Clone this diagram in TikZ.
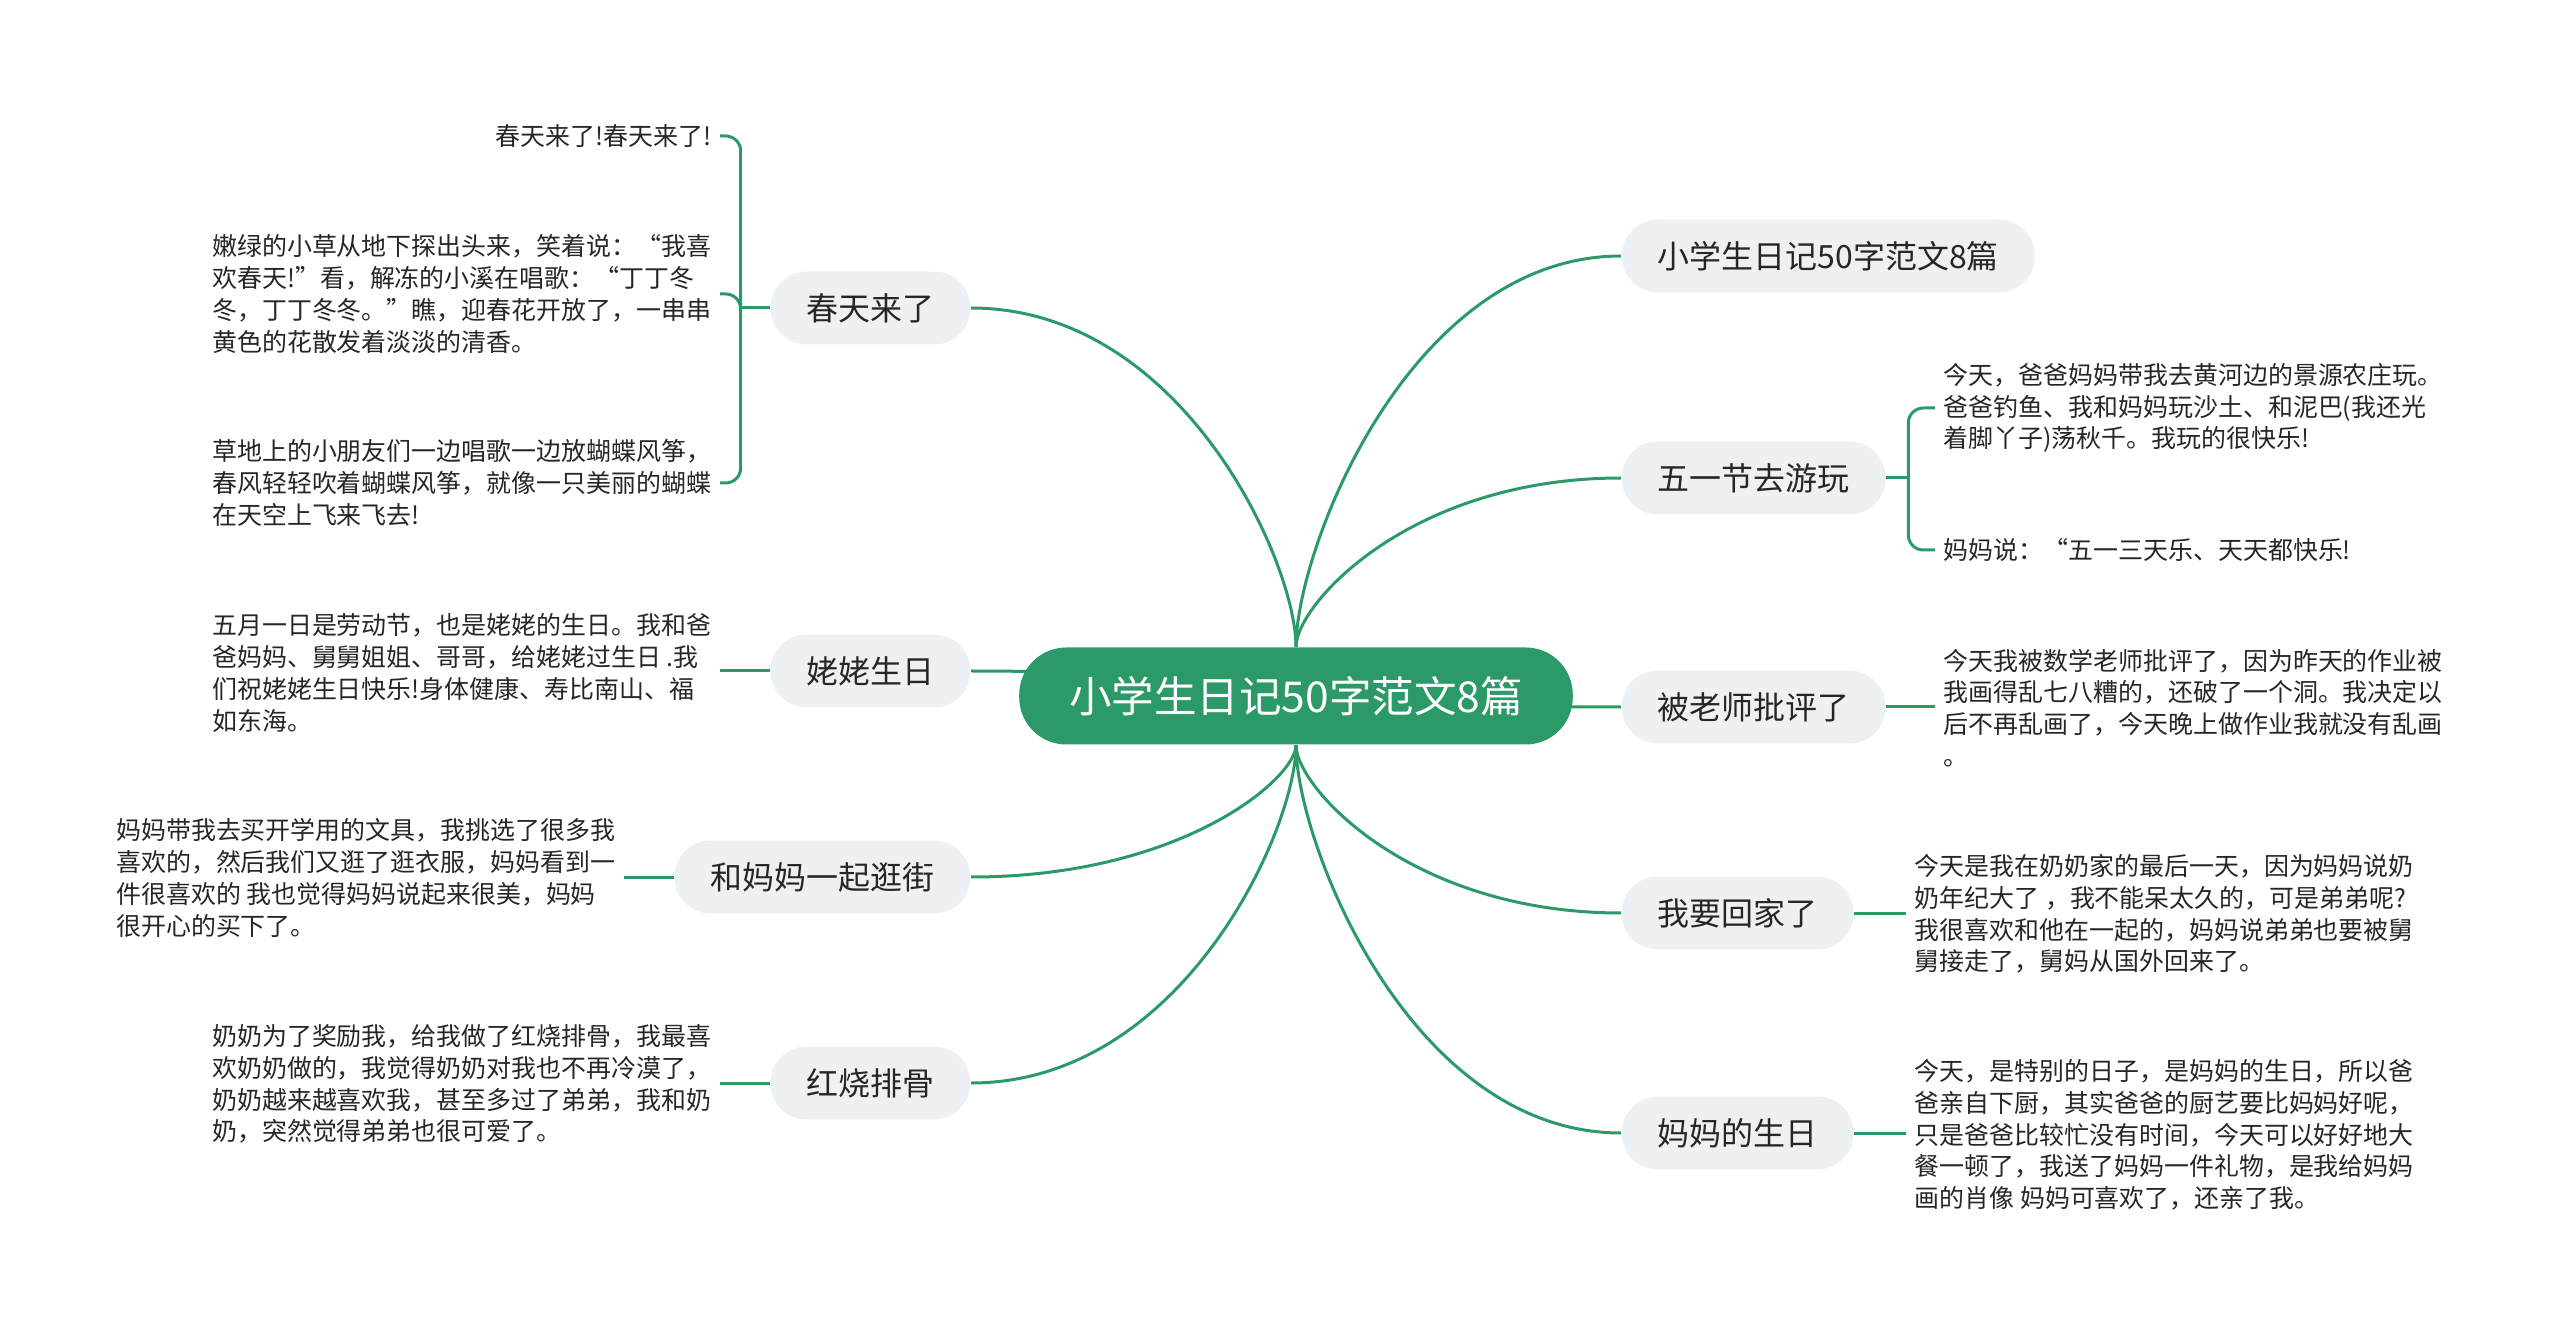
\documentclass[tikz,border=0pt]{standalone}
\usepackage{fontspec}
\usepackage{xcolor}
\usepackage{tikz}
\usetikzlibrary{calc,backgrounds}
\newfontfamily\cjk{Noto Sans CJK SC}
\definecolor{mapgreen}{RGB}{43,153,104}
\definecolor{topicgray}{RGB}{238,241,244}
\definecolor{leafink}{RGB}{38,38,38}

\begin{document}
\begin{tikzpicture}[
  x=0.1mm, y=-0.1mm,
  every node/.style={inner sep=0pt},
  root/.style ={fill=mapgreen, text=white, rounded corners=4.7mm,
                minimum height=9.7mm, inner xsep=5mm,
                font=\cjk\fontsize{12.1pt}{14pt}\selectfont},
  topic/.style={fill=topicgray, text=black!85, rounded corners=3.6mm,
                minimum height=7.3mm, inner xsep=3.6mm,
                font=\cjk\fontsize{9.1pt}{11pt}\selectfont},
  leaf/.style ={align=left, text=leafink, inner xsep=0.8mm,
                font=\cjk\fontsize{7.1pt}{9.02pt}\selectfont},
  link/.style ={draw=mapgreen, line width=0.3mm},
  fork/.style ={link, rounded corners=1.5mm}]

% curved main branch leaving anchor #1 of the root upright and
% reaching anchor #2 of a topic flat
\newcommand{\trunk}[2]{%
  \draw[link] (#1) .. controls ($(#1)!0.25!(#1 |- #2)$)
                          and ($(#1 |- #2)!0.35!(#2)$) .. (#2);}

\useasboundingbox (0,0) rectangle (2560,1333);

% ------------------------------ root -----------------------------------
\node[root] (root) at (1296,696) {小学生日记50字范文8篇};

% --------------------------- left topics -------------------------------
\node[topic, anchor=east] (chun)     at (971,308)  {春天来了};
\node[topic, anchor=east] (laolao)   at (971,671)  {姥姥生日};
\node[topic, anchor=east] (guangjie) at (971,877)  {和妈妈一起逛街};
\node[topic, anchor=east] (paigu)    at (971,1083) {红烧排骨};

% --------------------------- right topics ------------------------------
\node[topic, anchor=west] (title)  at (1621,256)  {小学生日记50字范文8篇};
\node[topic, anchor=west] (wuyi)   at (1621,478)  {五一节去游玩};
\node[topic, anchor=west] (piping) at (1621,707)  {被老师批评了};
\node[topic, anchor=west] (huijia) at (1621,913)  {我要回家了};
\node[topic, anchor=west] (mama)   at (1621,1133) {妈妈的生日};

% --------------------------- left leaves -------------------------------
\node[leaf, anchor=east] (chuna) at (720,136) {春天来了!春天来了!};
\node[leaf, anchor=east] (chunb) at (720,294)
  {嫩绿的小草从地下探出头来，笑着说：“我喜\\
   欢春天!”看，解冻的小溪在唱歌：“丁丁冬\\
   冬，丁丁冬冬。”瞧，迎春花开放了，一串串\\
   黄色的花散发着淡淡的清香。};
\node[leaf, anchor=east] (chunc) at (720,483)
  {草地上的小朋友们一边唱歌一边放蝴蝶风筝，\\
   春风轻轻吹着蝴蝶风筝，就像一只美丽的蝴蝶\\
   在天空上飞来飞去!};
\node[leaf, anchor=east] (laolaotxt) at (720,673)
  {五月一日是劳动节，也是姥姥的生日。我和爸\\
   爸妈妈、舅舅姐姐、哥哥，给姥姥过生日 .我\\
   们祝姥姥生日快乐!身体健康、寿比南山、福\\
   如东海。};
\node[leaf, anchor=east] (guangjietxt) at (624,878)
  {妈妈带我去买开学用的文具，我挑选了很多我\\
   喜欢的，然后我们又逛了逛衣服，妈妈看到一\\
   件很喜欢的 我也觉得妈妈说起来很美，妈妈\\
   很开心的买下了。};
\node[leaf, anchor=east] (paigutxt) at (720,1084)
  {奶奶为了奖励我，给我做了红烧排骨，我最喜\\
   欢奶奶做的，我觉得奶奶对我也不再冷漠了，\\
   奶奶越来越喜欢我，甚至多过了弟弟，我和奶\\
   奶，突然觉得弟弟也很可爱了。};

% --------------------------- right leaves ------------------------------
\node[leaf, anchor=west] (wuyia) at (1935,408)
  {今天，爸爸妈妈带我去黄河边的景源农庄玩。\\
   爸爸钓鱼、我和妈妈玩沙土、和泥巴(我还光\\
   着脚丫子)荡秋千。我玩的很快乐!};
\node[leaf, anchor=west] (wuyib) at (1935,550)
  {妈妈说：“五一三天乐、天天都快乐!};
\node[leaf, anchor=west] (pipingtxt) at (1935,708)
  {今天我被数学老师批评了，因为昨天的作业被\\
   我画得乱七八糟的，还破了一个洞。我决定以\\
   后不再乱画了，今天晚上做作业我就没有乱画\\
   。};
\node[leaf, anchor=west] (huijiatxt) at (1906,914)
  {今天是我在奶奶家的最后一天，因为妈妈说奶\\
   奶年纪大了 ，我不能呆太久的，可是弟弟呢?\\
   我很喜欢和他在一起的，妈妈说弟弟也要被舅\\
   舅接走了，舅妈从国外回来了。};
\node[leaf, anchor=west] (mamatxt) at (1906,1135)
  {今天，是特别的日子，是妈妈的生日，所以爸\\
   爸亲自下厨，其实爸爸的厨艺要比妈妈好呢，\\
   只是爸爸比较忙没有时间，今天可以好好地大\\
   餐一顿了，我送了妈妈一件礼物，是我给妈妈\\
   画的肖像 妈妈可喜欢了，还亲了我。};

% --------------------------- connectors --------------------------------
\coordinate (chunfork) at ($(chun.west)+(-29,0)$);
\coordinate (wuyifork) at ($(wuyi.east)+(22,0)$);

\begin{scope}[on background layer]
  \trunk{root.north}{chun.east}
  \trunk{root.center}{laolao.east}
  \trunk{root.south}{guangjie.east}
  \trunk{root.south}{paigu.east}
  \trunk{root.north}{title.west}
  \trunk{root.north}{wuyi.west}
  \trunk{root.center}{piping.west}
  \trunk{root.south}{huijia.west}
  \trunk{root.south}{mama.west}

  \draw[link] (chun.west) -- (chunfork);
  \draw[fork] (chunfork) |- (chuna.east);
  \draw[fork] (chunfork) |- (chunb.east);
  \draw[fork] (chunfork) |- (chunc.east);
  \draw[link] (laolao.west) -- (laolaotxt.east |- laolao.west);
  \draw[link] (guangjie.west) -- (guangjietxt.east |- guangjie.west);
  \draw[link] (paigu.west) -- (paigutxt.east |- paigu.west);

  \draw[link] (wuyi.east) -- (wuyifork);
  \draw[fork] (wuyifork) |- (wuyia.west);
  \draw[fork] (wuyifork) |- (wuyib.west);
  \draw[link] (piping.east) -- (pipingtxt.west |- piping.east);
  \draw[link] (huijia.east) -- (huijiatxt.west |- huijia.east);
  \draw[link] (mama.east) -- (mamatxt.west |- mama.east);
\end{scope}

\end{tikzpicture}
\end{document}
